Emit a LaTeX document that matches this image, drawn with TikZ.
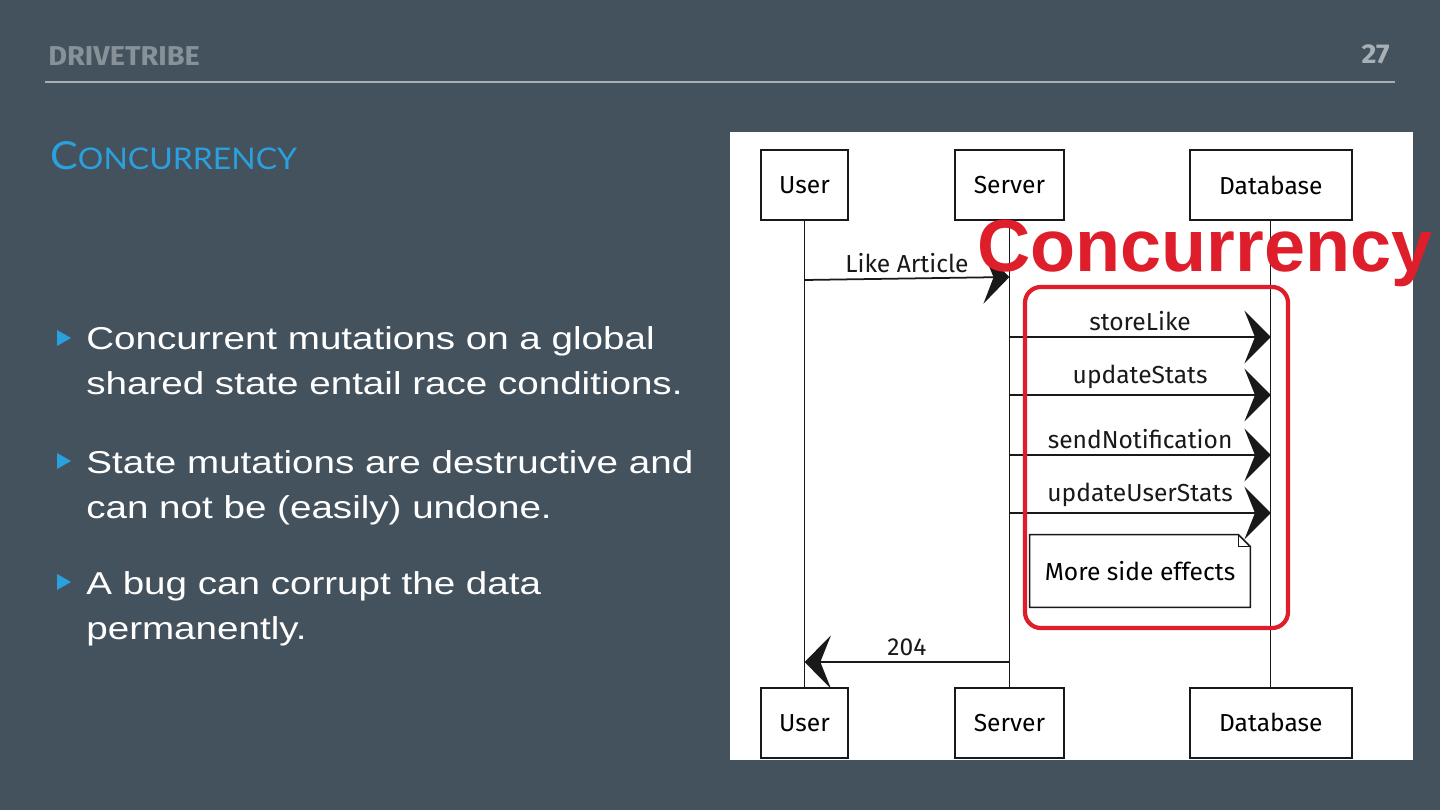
\documentclass[tikz,border=0pt]{standalone}
\usepackage{fontspec}
\setmainfont{Liberation Sans}
\newfontfamily\bodyfont[FakeStretch=1.22]{Liberation Sans}
\newfontfamily\headfont[FakeStretch=1.06]{Fira Sans}
\newfontfamily\titlefont[FakeStretch=1.07]{Lato}
\newfontfamily\sketchfont{Fira Sans}
\usetikzlibrary{arrows.meta, positioning, calc}
\definecolor{fondo}{RGB}{68,82,94}
\definecolor{grishead}{RGB}{135,145,152}
\definecolor{regla}{RGB}{168,176,182}
\definecolor{azultitulo}{RGB}{42,160,222}
\definecolor{rojoconc}{RGB}{222,30,42}
\definecolor{tinta}{RGB}{25,25,25}

\begin{document}
\begin{tikzpicture}[x=0.02cm, y=-0.02cm,
    actor/.style={rectangle, draw=tinta, line width=1.1pt, fill=white, minimum height=1.4cm, font=\sketchfont\fontsize{14}{16}\selectfont},
    life/.style={draw=tinta, line width=0.75pt},
    msg/.style={-{Stealth[length=15pt, width=30pt, inset=6pt]}, line width=1pt, tinta},
    lbl/.style={font=\sketchfont\fontsize{14}{16}\selectfont, inner sep=3pt},
    bullet/.style={font=\bodyfont\fontsize{18}{26}\selectfont, text=white, align=left, anchor=north west, inner sep=0pt}
]
% slide
\useasboundingbox (0,0) rectangle (1440,810);
\fill[fondo] (0,0) rectangle (1440,810);
\node[anchor=base west, inner sep=0, text=grishead, font=\headfont\bfseries\fontsize{15.5}{18}\selectfont] (marca) at (48,66) {DRIVETRIBE};
\node[anchor=base east, inner sep=0, text=regla, font=\headfont\bfseries\fontsize{15.5}{18}\selectfont] (pagina) at (1390,64) {27};
\draw[regla, line width=0.8pt] (45,82) -- (1395,82);
\node[anchor=base west, inner sep=0, text=azultitulo, font=\titlefont] (titulo) at (50,170) {{\fontsize{22}{26}\selectfont C}{\fontsize{17}{20}\selectfont ONCURRENCY}};

\node[bullet] (t1) at (86,326) {Concurrent mutations on a global\\shared state entail race conditions.};
\node[bullet] (t2) at (86,450) {State mutations are destructive and\\can not be (easily) undone.};
\node[bullet] (t3) at (86,571) {A bug can corrupt the data\\permanently.};
\foreach \yy in {338,461,582}
  \fill[azultitulo] (57,\yy-8) -- (71,\yy) -- (57,\yy+8) -- cycle;

% sequence diagram
\fill[white] (730,132) rectangle (1413,760);
\node[actor, minimum width=1.74cm] (userT) at (804.5,185) {User};
\node[actor, minimum width=2.18cm, right=2.10cm of userT] (serverT) {Server};
\node[actor, minimum width=3.24cm, right=2.48cm of serverT] (dbT) {Database};
\node[actor, minimum width=1.74cm, below=9.32cm of userT] (userB) {User};
\node[actor, minimum width=2.18cm, below=9.32cm of serverT] (serverB) {Server};
\node[actor, minimum width=3.24cm, below=9.32cm of dbT] (dbB) {Database};

\draw[life] (userT.south) -- (userB.north);
\draw[life] (serverT.south) -- (serverB.north);
\draw[life] (dbT.south) -- (dbB.north);

\coordinate (likeU) at (userT.south |- 0,280);
\coordinate (likeS) at (serverT.south |- 0,277);
\draw[msg] (likeU) -- node[lbl, above] {Like Article} (likeS);

\foreach \yy/\txt [count=\i] in {337/storeLike, 395/updateStats, 455/sendNotification, 513/updateUserStats}{
  \coordinate (call\i) at (serverT.south |- 0,\yy);
  \coordinate (hit\i) at (dbT.south |- 0,\yy);
  \draw[msg] (call\i) -- node[lbl, above] {\txt} (hit\i);
}

\node[lbl, minimum width=4.4cm, minimum height=1.44cm] (extra) at (1140,571) {More side effects};
\draw[life, line width=0.9pt, fill=white] (extra.north west) -- ($(extra.north east)+(-12,0)$) -- ($(extra.north east)+(0,12)$) -- (extra.south east) -- (extra.south west) -- cycle;
\draw[life, line width=0.9pt] ($(extra.north east)+(-12,0)$) |- ($(extra.north east)+(0,12)$);
\node[lbl] at (extra) {More side effects};

\coordinate (okS) at (serverT.south |- 0,662);
\coordinate (okU) at (userT.south |- 0,662);
\draw[msg] (okS) -- node[lbl, above] {204} (okU);

% highlight
\draw[rojoconc, line width=2.4pt, rounded corners=9pt] (1025,287) rectangle (1288,628);
\node[anchor=base west, inner sep=0, text=rojoconc, font=\bfseries\fontsize{42}{46}\selectfont] (sello) at (977,272) {Concurrency};
\end{tikzpicture}
\end{document}
